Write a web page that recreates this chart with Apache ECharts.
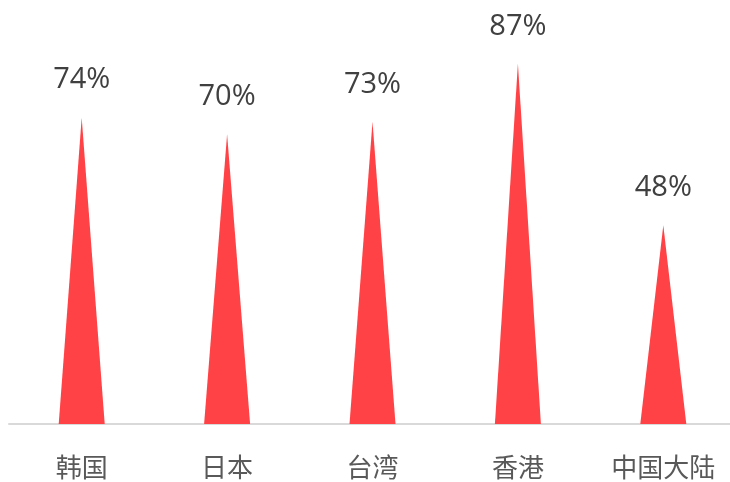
<!DOCTYPE html>
<html><head><meta charset="utf-8">
<script src="https://cdn.jsdelivr.net/npm/echarts@6/dist/echarts.min.js"></script>
<style>html,body{margin:0;padding:0;background:#fff}#c{width:730px;height:482px}</style>
</head><body><div id="c"></div>
<script>
const categories = ['韩国', '日本', '台湾', '香港', '中国大陆'];
const values = [74, 70, 73, 87, 48];

const chart = echarts.init(document.getElementById('c'));
chart.setOption({
  animation: false,
  grid: { left: 9, top: 10, right: -6, bottom: 58, outerBoundsMode: 'none', containLabel: false },
  xAxis: {
    type: 'category',
    data: categories,
    axisLine: { lineStyle: { color: '#d9d9d9', width: 2 } },
    axisTick: { show: false },
    axisLabel: { margin: 30, fontSize: 26, color: '#595959', fontFamily: '"Noto Sans CJK SC", sans-serif' }
  },
  yAxis: { type: 'value', min: 0, max: 100, show: false, splitLine: { show: false } },
  series: [{
    type: 'pictorialBar',
    data: values,
    symbol: 'triangle',
    symbolSize: [46, '100%'],
    itemStyle: { color: '#FF4245' },
    label: {
      show: true, position: 'top', distance: 23,
      formatter: '{c}%', fontSize: 29, color: '#404040',
      fontFamily: '"Open Sans", "Noto Sans", sans-serif'
    },
    z: 1
  }]
});
</script></body></html>
